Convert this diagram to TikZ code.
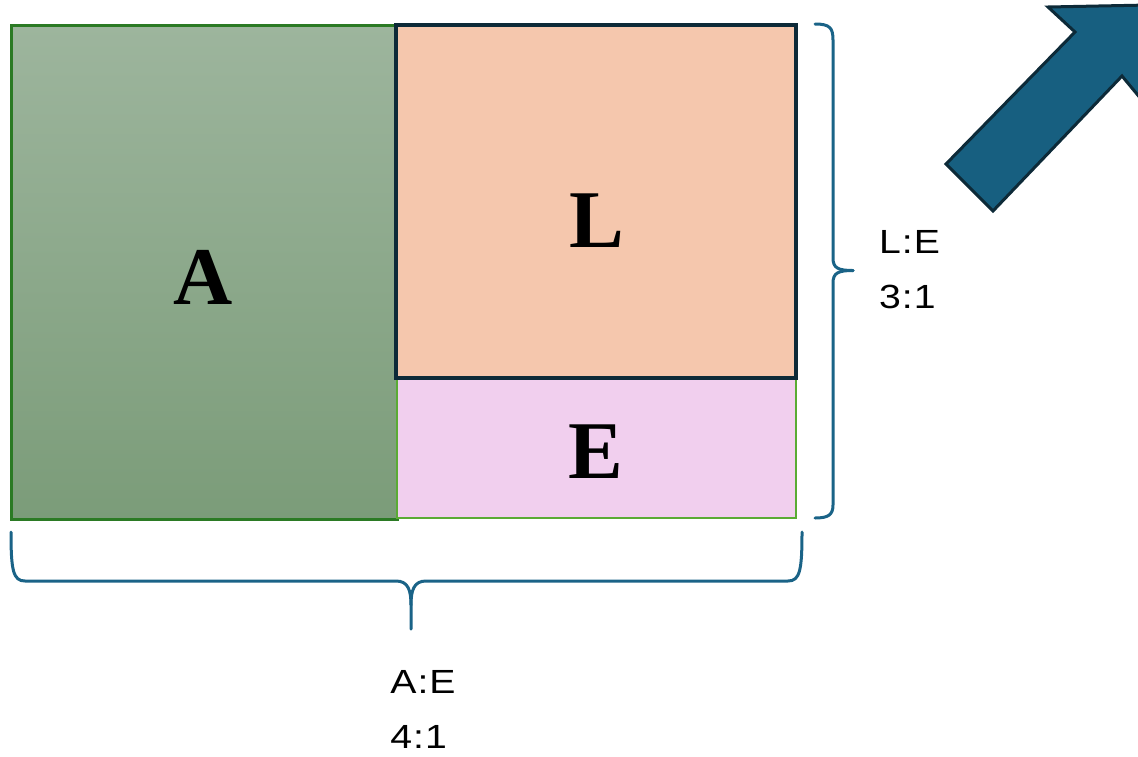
\documentclass[tikz,border=0pt]{standalone}
\usepackage{fontspec}
\setmainfont{Liberation Serif}
\newfontfamily\labfont[FakeStretch=1.17,LetterSpace=3]{Liberation Sans}
\definecolor{agreenTop}{HTML}{9DB59D}
\definecolor{agreenBot}{HTML}{7B9C79}
\definecolor{aborder}{HTML}{2B7A24}
\definecolor{lfill}{HTML}{F5C7AD}
\definecolor{lborder}{HTML}{0D2A38}
\definecolor{efill}{HTML}{F1CFEE}
\definecolor{eborder}{HTML}{5AAB34}
\definecolor{bracecol}{HTML}{1A6387}
\definecolor{arrowfill}{HTML}{175F80}
\begin{document}
\begin{tikzpicture}[x=1pt,y=-1pt,
  bigletter/.style={font=\fontsize{82}{82}\selectfont\bfseries, inner sep=0pt, anchor=center},
  ratiolabel/.style={font=\fontsize{33.5}{55}\selectfont\labfont, align=left, inner sep=0pt},
  bracestyle/.style={draw=bracecol, line width=3pt, line cap=round, line join=round}]
\useasboundingbox (0,0) rectangle (1138,756);
% A block
\shade[top color=agreenTop, bottom color=agreenBot] (11,25) rectangle (397,519);
\draw[aborder, line width=3pt] (11,25) rectangle (397,519);
% E block
\filldraw[fill=efill, draw=eborder, line width=2.8pt] (397,378) rectangle (796,518);
% L block
\filldraw[fill=lfill, draw=lborder, line width=3.5pt] (396,25) rectangle (796,378);
% letters
\node[bigletter] (A) at (203,277) {A};
\node[bigletter] (L) at (597,221) {L};
\node[bigletter] (E) at (596,452) {E};
% right brace
\coordinate (rb1) at (815,24);
\coordinate (rbt) at (853,270.5);
\coordinate (rb2) at (815,518);
\draw[bracestyle] (rb1) .. controls (830,24) and (833,28) .. (833,40) -- (833,258)
  .. controls (833,268) and (838,270.5) .. (rbt);
\draw[bracestyle] (rbt) .. controls (838,270.5) and (833,273) .. (833,283) -- (833,505)
  .. controls (833,515) and (828,518) .. (rb2);
% bottom brace
\coordinate (bb1) at (11,532);
\coordinate (bbt) at (411,629);
\coordinate (bb2) at (802,532);
\draw[bracestyle] (bb1) .. controls (11,570) and (13,581) .. (25,581) -- (396,581)
  .. controls (408,581) and (411,590) .. (411,605) -- (bbt);
\draw[bracestyle] (bb2) .. controls (802,570) and (800,581) .. (788,581) -- (426,581)
  .. controls (414,581) and (411,590) .. (411,605);
% labels
\node[ratiolabel, anchor=west] (LE) at (879,270) {L:E\\3:1};
\node[ratiolabel, anchor=north] (AE) at (423,670) {A:E\\4:1};
% big arrow
\coordinate (t1) at (946,164);
\coordinate (t2) at (993,211);
\coordinate (n1) at (1075,32);
\coordinate (n2) at (1122,76);
\coordinate (b1) at (1048,7);
\coordinate (b2) at (1146,105);
\coordinate (tip) at (1149,5);
\filldraw[fill=arrowfill, draw=lborder, line width=3pt, line join=miter]
  (t1) -- (n1) -- (b1) -- (tip) -- (b2) -- (n2) -- (t2) -- cycle;
\end{tikzpicture}
\end{document}
